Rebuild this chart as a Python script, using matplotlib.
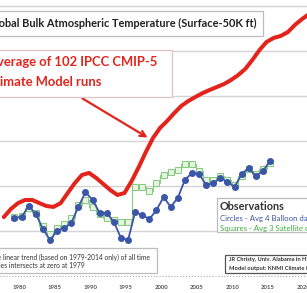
import matplotlib.pyplot as plt
import matplotlib.patches as patches
import numpy as np

# model mean (5-yr smoothed), deg C
model_years = np.arange(1978, 2022)
model_mean = [0.062, 0.098, 0.124, 0.138, 0.138, 0.124, 0.111, 0.107, 0.124, 0.169,
              0.213, 0.249, 0.258, 0.236, 0.209, 0.182, 0.160, 0.169, 0.222, 0.284,
              0.351, 0.413, 0.458, 0.489, 0.524, 0.556, 0.578, 0.596, 0.613, 0.627,
              0.640, 0.653, 0.671, 0.693, 0.720, 0.760, 0.804, 0.840, 0.858, 0.867,
              0.884, 0.916, 0.942, 0.964]

obs_years = np.arange(1979, 2016)
balloons = [0.058, 0.062, 0.111, 0.076, 0.009, -0.040, 0.000, 0.013, 0.036, 0.107,
            0.173, 0.138, 0.080, 0.080, 0.040, -0.031, -0.040, 0.084, 0.071, 0.053,
            0.093, 0.151, 0.107, 0.147, 0.227, 0.258, 0.253, 0.204, 0.213, 0.236,
            0.218, 0.196, 0.253, 0.280, 0.244, 0.267, 0.311]
satellites = [0.062, 0.067, 0.102, 0.080, 0.022, -0.013, 0.013, 0.031, 0.058, 0.116,
              0.138, 0.107, 0.076, 0.058, 0.049, 0.040, 0.040, 0.196, 0.196, 0.178,
              0.213, 0.249, 0.262, 0.271, 0.298, 0.298, 0.267, 0.227, 0.227, 0.244,
              0.227, 0.204, 0.244, 0.276, 0.253, 0.276, 0.302]

tick_years = [1980, 1985, 1990, 1995, 2000, 2005, 2010, 2015, 2020]

title = 'Global Bulk Atmospheric Temperature (Surface-50K ft)'
model_label = ['Average of 102 IPCC CMIP-5', 'Climate Model runs']
obs_label = ['Observations', 'Circles - Avg 4 Balloon datasets',
             'Squares - Avg 3 Satellite datasets']
trend_note = ['The linear trend (based on 1979-2014 only) of all time',
              'series intersects at zero at 1979']
credit = ['JR Christy, Univ. Alabama in Huntsville',
          'Model output: KNMI Climate Explorer']

W, H = 307, 293
def fx(px):
    return px / W
def fy(py):
    return 1 - py / H

fig = plt.figure(figsize=(W / 100, H / 100), dpi=100)
renderer = fig.canvas.get_renderer()
ax = fig.add_axes([0, 0, 1, 1])
ax.set_xlim(1977.46, 2020.7)
ax.set_ylim(-0.2756, 1.0267)
ax.axis('off')

def width_px(s, size, **kw):
    t = fig.text(0, 0, s, fontsize=size, family='Lato', **kw)
    w = t.get_window_extent(renderer).width
    t.remove()
    return w

def fit(s, target, **kw):
    # font size that makes s span target pixels
    return 10 * target / width_px(s, 10, **kw)

for g in np.arange(0, 1.01, 0.2):
    ax.axhline(g, color='#d4d4d4', lw=1, zorder=0)
ax.axhline(-0.2, color='#aaaaaa', lw=0.8, ls=':', zorder=0)

red = '#e3241c'
ax.plot(model_years, model_mean, color=red, lw=2.9, solid_capstyle='round', zorder=3)
ax.plot(obs_years + 0.5, satellites, drawstyle='steps-mid', color='#8ccf86', lw=0.9, zorder=2)
ax.plot(obs_years + 0.5, satellites, 's', ms=3.7, mfc='#e4f4e0', mec='#86c980', mew=0.7, zorder=2)
ax.plot(obs_years + 0.5, balloons, '-o', color='#3b55a8', lw=1.3, ms=4.0, zorder=4)

for yr in tick_years:
    ax.text(yr + 0.2, -0.25, str(yr), ha='center', va='center', fontsize=4.3,
            color='#555555', fontweight='bold', family='Lato')

def box(x0, y0, x1, y1, ec='#bdbdbd', lw=0.9):
    r = patches.Rectangle((fx(x0), fy(y1)), fx(x1) - fx(x0), fy(y0) - fy(y1),
                          transform=fig.transFigure, fc='white', ec=ec, lw=lw, zorder=5)
    fig.add_artist(r)

def lines(texts, x0, ys, size, colors, weights):
    for s, y, c, wgt in zip(texts, ys, colors, weights):
        fig.text(fx(x0), fy(y), s, ha='left', va='center', fontsize=size, color=c,
                 fontweight=wgt, family='Lato', zorder=6)

# title box
box(-30, 11, 263, 36)
size = fit(title[3:], 254, fontweight='bold')
fig.text(fx(257), fy(23.5), title, ha='right', va='center', fontsize=size,
         fontweight='bold', color='#222222', family='Lato', zorder=6)

# model label box
box(-30, 50, 172, 97, ec='#e2c2c2')
size = fit(model_label[0][2:], 154, fontweight='bold')
x0 = 157 - width_px(model_label[0], size, fontweight='bold')
lines(model_label, x0, [62, 82], size, [red, red], ['bold', 'bold'])

ax.annotate('', xy=(fx(150), fy(139)), xytext=(fx(80), fy(97)),
            xycoords='figure fraction', textcoords='figure fraction',
            arrowprops=dict(arrowstyle='->', color=red, lw=1.6,
                            mutation_scale=10), zorder=6)

# observations box
box(217, 198, 330, 232)
s1 = fit(obs_label[0], 65, fontweight='bold')
s2 = fit(obs_label[1][:26], 87)
lines(obs_label[:1], 220, [206], s1, ['#333333'], ['bold'])
lines(obs_label[1:], 220, [218, 228], s2, ['#3b55a8', '#3fae3f'], ['normal', 'normal'])

# trend note box
box(-30, 248, 157, 273)
size = fit(trend_note[0][6:], 145)
x0 = 150 - width_px(trend_note[0], size)
lines(trend_note, x0, [257, 265], size, ['#333333'] * 2, ['normal'] * 2)

# credit box
box(225, 255, 330, 273, ec='#555555')
size = fit(credit[0][:30], 78, fontweight='bold')
lines(credit, 229, [260, 268.5], size, ['#333333'] * 2, ['bold'] * 2)

fig.savefig('out.png', dpi=100)
